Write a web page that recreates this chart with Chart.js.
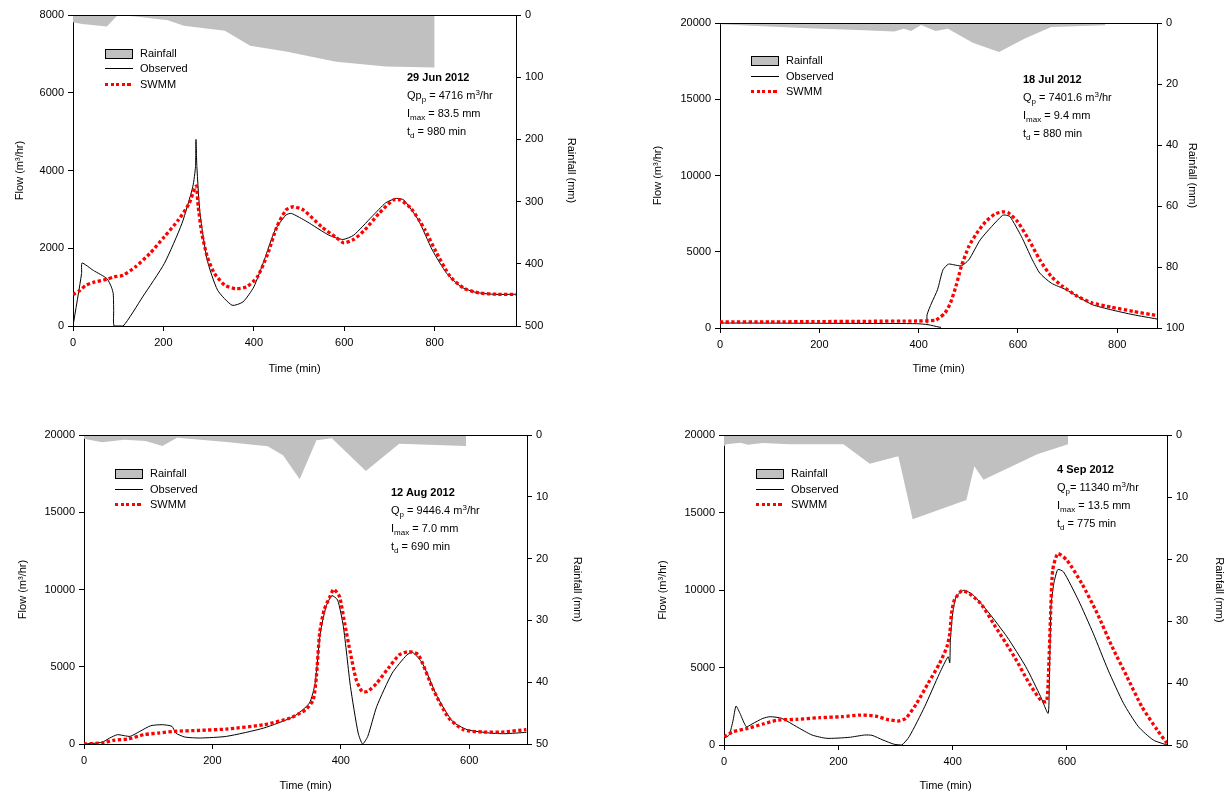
<!DOCTYPE html>
<html>
<head>
<meta charset="utf-8">
<title>SWMM calibration events</title>
<script src="https://cdn.jsdelivr.net/npm/chart.js@4.4.0/dist/chart.umd.min.js"></script>
<style>
  body { margin: 0; background: #fff; font-family: "Liberation Sans", Arial, sans-serif; }
  #page { position: relative; width: 1226px; height: 796px; overflow: hidden; }
  canvas.layer { position: absolute; left: 0; top: 0; }
  .note { position: absolute; font-size: 11px; line-height: 18px; color: #000; white-space: nowrap; }
  .note sub, .note sup { font-size: 8px; line-height: 0; }
  .note sub { vertical-align: -3px; }
  .note sup { vertical-align: 4px; }
  .legend { position: absolute; font-size: 11px; color: #000; }
  .row { position: absolute; left: 0; height: 15px; line-height: 15px; white-space: nowrap; }
  .sw { position: absolute; left: 0; width: 28px; box-sizing: border-box; }
  .sw.box { top: 3px; height: 10px; background: #c0c0c0; border: 1px solid #000; }
  .sw.obs { top: 7px; height: 1px; background: #000; }
  .sw.swmm { top: 6px; height: 3px; background: repeating-linear-gradient(90deg, #f00 0 3.3px, transparent 3.3px 5.6px); }
  .lbl { position: absolute; left: 35px; top: 0; }
</style>
</head>
<body>
<div id="page">
  <canvas class="layer" id="c1" width="1226" height="796"></canvas>
  <canvas class="layer" id="c2" width="1226" height="796"></canvas>
  <canvas class="layer" id="c3" width="1226" height="796"></canvas>
  <canvas class="layer" id="c4" width="1226" height="796"></canvas>

  <div class="note" style="left:407px; top:68px;"><b>29 Jun 2012</b><br>Qp<sub>p</sub> = 4716 m<sup>3</sup>/hr<br>I<sub>max</sub> = 83.5 mm<br>t<sub>d</sub> = 980 min</div>
  <div class="note" style="left:1023px; top:70px;"><b>18 Jul 2012</b><br>Q<sub>p</sub> = 7401.6 m<sup>3</sup>/hr<br>I<sub>max</sub> = 9.4 mm<br>t<sub>d</sub> = 880 min</div>
  <div class="note" style="left:391px; top:483px;"><b>12 Aug 2012</b><br>Q<sub>p</sub> = 9446.4 m<sup>3</sup>/hr<br>I<sub>max</sub> = 7.0 mm<br>t<sub>d</sub> = 690 min</div>
  <div class="note" style="left:1057px; top:460px;"><b>4 Sep 2012</b><br>Q<sub>p</sub>= 11340 m<sup>3</sup>/hr<br>I<sub>max</sub> = 13.5 mm<br>t<sub>d</sub> = 775 min</div>
</div>

<script>
// rainfall: [time (min), cumulative rainfall (mm)], flow: [time (min), flow (m3/hr)]
const jun29Rain = [[0, 11.8], [20, 14.5], [75, 18.3], [99, 0], [138, 2.5], [210, 8.6], [245, 17.2],
  [336, 25.2], [392, 49.4], [471, 58.5], [582, 75.2], [692, 82.7], [800, 84.3]];
const jun29Observed = [[0, 0], [19, 1350], [20, 1620], [45, 1430], [75, 1220], [85, 1000], [89, 833],
  [90, 400], [91, 0], [111, 0], [154, 748], [202, 1607], [241, 2638], [265, 3583], [271, 4100],
  [272, 4800], [274, 4100], [281, 2896], [297, 1693], [320, 920], [352, 533], [376, 619], [400, 1005],
  [423, 1693], [447, 2466], [471, 2853], [483, 2896], [518, 2681], [566, 2337], [597, 2226],
  [621, 2337], [661, 2810], [692, 3171], [716, 3283], [732, 3240], [764, 2724], [795, 1951],
  [827, 1349], [859, 1005], [890, 868], [930, 816], [980, 816]];
const jun29Swmm = [[0, 808], [16, 920], [28, 1048], [44, 1117], [75, 1203], [91, 1263], [111, 1306],
  [138, 1521], [170, 1865], [202, 2294], [233, 2724], [257, 3154], [269, 3540], [273, 3600],
  [277, 3068], [285, 2380], [297, 1779], [313, 1349], [336, 1048], [360, 962], [384, 1005],
  [408, 1263], [431, 1865], [451, 2552], [471, 2982], [487, 3068], [510, 2982], [550, 2552],
  [582, 2277], [599, 2140], [621, 2226], [645, 2466], [677, 2896], [708, 3240], [724, 3240],
  [748, 3025], [779, 2466], [803, 1908], [835, 1263], [866, 962], [898, 851], [940, 816], [980, 816]];

const jul18Rain = [[0, 0.44], [65, 0.87], [178, 1.7], [291, 2.4], [351, 2.8], [370, 1.9], [385, 2.6],
  [405, 0.65], [434, 2.6], [459, 1.9], [509, 6.5], [562, 9.5], [614, 5.1], [667, 1.3], [776, 0.76]];
const jul18Observed = [[0, 327], [100, 320], [200, 310], [300, 300], [396, 283], [419, 218], [441, 60],
  [445, 40], [417, null], [417, 300], [417, 872], [426, 1636], [438, 2508], [449, 3817], [460, 4188],
  [471, 4144], [486, 4078], [501, 4471], [524, 5780], [547, 6652], [569, 7390], [575, 7402],
  [584, 7306], [607, 5998], [629, 4471], [644, 3599], [667, 2944], [697, 2508], [720, 2072],
  [750, 1527], [787, 1200], [832, 872], [880, 589]];
const jul18Swmm = [[0, 393], [100, 400], [200, 420], [300, 440], [396, 458], [434, 502], [441, 654],
  [453, 981], [464, 1636], [475, 2726], [486, 4035], [501, 5343], [517, 6216], [535, 6979],
  [554, 7481], [569, 7612], [580, 7568], [599, 6979], [622, 5780], [644, 4471], [667, 3381],
  [690, 2726], [720, 2072], [750, 1636], [787, 1374], [832, 1091], [870, 872], [880, 807]];

const aug12Rain = [[0, 0.59], [28, 1.18], [63, 0.75], [96, 0.97], [122, 1.78], [145, 0.43], [222, 1.13],
  [286, 1.83], [310, 3.28], [336, 7.16], [362, 0.86], [386, 0.54], [439, 5.81], [491, 1.4], [595, 1.78]];
const aug12Observed = [[0, 0], [28, 108], [40, 388], [52, 603], [63, 538], [72, 495], [87, 818],
  [104, 1184], [122, 1249], [137, 1141], [143, 710], [157, 452], [181, 388], [222, 495], [280, 1033],
  [327, 1787], [351, 2648], [360, 3940], [368, 7169], [377, 8892], [386, 9603], [395, 9322],
  [404, 7600], [415, 3725], [427, 710], [434, 0], [442, 495], [456, 2433], [480, 4586], [503, 5770],
  [512, 5921], [527, 5232], [550, 3079], [574, 1464], [597, 926], [632, 710], [656, 667], [689, 754]];
const aug12Swmm = [[0, 0], [28, 65], [46, 237], [69, 323], [93, 603], [116, 710], [140, 818], [181, 883],
  [222, 969], [280, 1249], [321, 1679], [345, 2218], [357, 2864], [362, 4371], [367, 7169],
  [374, 8677], [383, 9538], [389, 10012], [398, 9538], [406, 7815], [415, 5878], [424, 4155],
  [433, 3402], [442, 3402], [456, 3940], [474, 4909], [491, 5770], [506, 5985], [521, 5770],
  [544, 3509], [568, 1679], [591, 926], [621, 775], [650, 775], [689, 926]];

const sep4Rain = [[0, 1.83], [4, 1.5], [29, 1.24], [42, 1.56], [68, 1.29], [114, 1.5], [209, 1.5],
  [255, 4.62], [305, 3.44], [330, 13.6], [424, 10.5], [438, 5.05], [454, 7.2], [548, 3.11], [602, 1.5]];
const sep4Observed = [[0, 430], [9, 644], [16, 1611], [21, 2513], [28, 2041], [39, 1181], [49, 1353],
  [68, 1718], [81, 1826], [101, 1718], [127, 1181], [154, 644], [180, 430], [219, 494], [246, 644],
  [259, 623], [278, 322], [298, 43], [311, 0], [324, 537], [351, 2470], [377, 4618], [392, 5692],
  [395, 5300], [396, 6766], [400, 8485], [406, 9559], [420, 9988], [436, 9666], [462, 8592],
  [495, 6981], [528, 5048], [554, 3115], [567, 2041], [569, 3759], [572, 8914], [577, 10418],
  [584, 11320], [594, 11170], [620, 9344], [646, 7196], [672, 4833], [699, 2685], [725, 1181],
  [751, 322], [775, 0]];
const sep4Swmm = [[0, 537], [16, 859], [42, 1074], [68, 1353], [95, 1611], [127, 1654], [167, 1761],
  [206, 1826], [239, 1933], [265, 1869], [285, 1654], [305, 1547], [318, 1718], [337, 2685],
  [357, 3974], [377, 5263], [390, 6337], [395, 7196], [398, 8485], [403, 9344], [416, 9946],
  [429, 9774], [449, 9129], [475, 7625], [508, 5692], [534, 3974], [554, 2900], [564, 2792],
  [567, 3974], [571, 8055], [575, 11277], [584, 12351], [600, 11921], [626, 10418], [653, 8485],
  [679, 6337], [705, 4403], [731, 2470], [758, 967], [775, 107]];

// tick labels
const timeTicksLong = [0, 200, 400, 600, 800];
const timeTicksShort = [0, 200, 400, 600];
const flowTicksSmall = [0, 2000, 4000, 6000, 8000];
const flowTicksLarge = [0, 5000, 10000, 15000, 20000];
const rainTicks500 = [0, 100, 200, 300, 400, 500];
const rainTicks100 = [0, 20, 40, 60, 80, 100];
const rainTicks50 = [0, 10, 20, 30, 40, 50];

const legendLabels = ["Rainfall", "Observed", "SWMM"];

Chart.defaults.font.family = '"Liberation Sans", Arial, sans-serif';
Chart.defaults.font.size = 11;
Chart.defaults.color = "#000";

// top edge of the frame (the axes draw the other three sides)
const frameTop = {
  id: "frameTop",
  afterDatasetsDraw(chart) {
    const a = chart.chartArea;
    const ctx = chart.ctx;
    ctx.save();
    ctx.strokeStyle = "#000";
    ctx.lineWidth = 1;
    ctx.beginPath();
    ctx.moveTo(a.left, Math.round(a.top) + 0.5);
    ctx.lineTo(a.right, Math.round(a.top) + 0.5);
    ctx.stroke();
    ctx.restore();
  },
};

function toXY(pts) {
  return pts.map((p) => ({ x: p[0], y: p[1] }));
}

function fixedAxis(tickValues, extra) {
  return Object.assign({
    type: "linear",
    min: tickValues[0],
    grid: { display: true, drawOnChartArea: false, drawTicks: true, tickLength: 5, color: "#000" },
    border: { display: true, color: "#000", width: 1 },
    afterBuildTicks: (s) => { s.ticks = tickValues.map((v) => ({ value: v })); },
  }, extra);
}

function makePanel(p) {
  const ctx = document.getElementById(p.id).getContext("2d");
  new Chart(ctx, {
    type: "line",
    data: {
      datasets: [
        {
          label: "SWMM",
          data: toXY(p.swmm),
          yAxisID: "y",
          borderColor: "#ff0000",
          borderWidth: 3.3,
          borderDash: [3.3, 2.4],
          borderCapStyle: "butt",
          pointRadius: 0,
          tension: 0.2,
          fill: false,
        },
        {
          label: "Observed",
          data: toXY(p.obs),
          yAxisID: "y",
          borderColor: "#000",
          borderWidth: 1,
          pointRadius: 0,
          tension: 0.2,
          fill: false,
        },
        {
          label: "Rainfall",
          data: toXY(p.rain),
          yAxisID: "y1",
          borderWidth: 0,
          borderColor: "rgba(0,0,0,0)",
          backgroundColor: "#c0c0c0",
          pointRadius: 0,
          tension: 0,
          fill: "origin",
        },
      ],
    },
    options: {
      responsive: false,
      animation: false,
      devicePixelRatio: 1,
      layout: { padding: p.pad },
      plugins: { legend: { display: false }, tooltip: { enabled: false } },
      scales: {
        x: fixedAxis(p.xTicks, {
          max: p.xMax,
          ticks: { maxRotation: 0, padding: 5, autoSkip: false, callback: (v) => String(v) },
          title: { display: true, text: "Time (min)", padding: 0 },
          afterFit: (s) => { s.height = p.hx; },
        }),
        y: fixedAxis(p.yTicks, {
          position: "left",
          max: p.yTicks[p.yTicks.length - 1],
          ticks: { padding: 4, autoSkip: false, callback: (v) => String(v) },
          title: { display: true, text: "Flow (m³/hr)", padding: 0 },
          afterFit: (s) => { s.width = p.wl; },
        }),
        y1: fixedAxis(p.rTicks, {
          position: "right",
          max: p.rTicks[p.rTicks.length - 1],
          reverse: true,
          ticks: { padding: 4, autoSkip: false, callback: (v) => String(v) },
          title: { display: true, text: "Rainfall (mm)", padding: 0 },
          afterFit: (s) => { s.width = p.wr; },
        }),
      },
    },
    plugins: [frameTop],
  });
}

function makeLegend(left, top) {
  const box = document.createElement("div");
  box.className = "legend";
  box.style.left = left + "px";
  box.style.top = top + "px";
  const kinds = ["box", "obs", "swmm"];
  const offsets = [0, 15.5, 31];
  legendLabels.forEach((name, i) => {
    const row = document.createElement("div");
    row.className = "row";
    row.style.top = offsets[i] + "px";
    row.innerHTML = '<span class="sw ' + kinds[i] + '"></span><span class="lbl">' + name + "</span>";
    box.appendChild(row);
  });
  document.getElementById("page").appendChild(box);
}

const panels = [
  { id: "c1", rain: jun29Rain, obs: jun29Observed, swmm: jun29Swmm, xMax: 980,
    xTicks: timeTicksLong, yTicks: flowTicksSmall, rTicks: rainTicks500,
    pad: { left: 13, right: 648, top: 15, bottom: 420 }, wl: 60, wr: 62, hx: 50 },
  { id: "c2", rain: jul18Rain, obs: jul18Observed, swmm: jul18Swmm, xMax: 880,
    xTicks: timeTicksLong, yTicks: flowTicksLarge, rTicks: rainTicks100,
    pad: { left: 651, right: 27, top: 23, bottom: 420 }, wl: 69, wr: 42, hx: 48 },
  { id: "c3", rain: aug12Rain, obs: aug12Observed, swmm: aug12Swmm, xMax: 690,
    xTicks: timeTicksShort, yTicks: flowTicksLarge, rTicks: rainTicks50,
    pad: { left: 16, right: 642, top: 435, bottom: 3 }, wl: 68, wr: 57, hx: 49 },
  { id: "c4", rain: sep4Rain, obs: sep4Observed, swmm: sep4Swmm, xMax: 775,
    xTicks: timeTicksShort, yTicks: flowTicksLarge, rTicks: rainTicks50,
    pad: { left: 656, right: 0, top: 435, bottom: 3 }, wl: 68, wr: 59, hx: 48 },
];

panels.forEach(makePanel);
makeLegend(105, 45.5);
makeLegend(751, 53);
makeLegend(115, 466);
makeLegend(756, 466);
</script>
</body>
</html>
